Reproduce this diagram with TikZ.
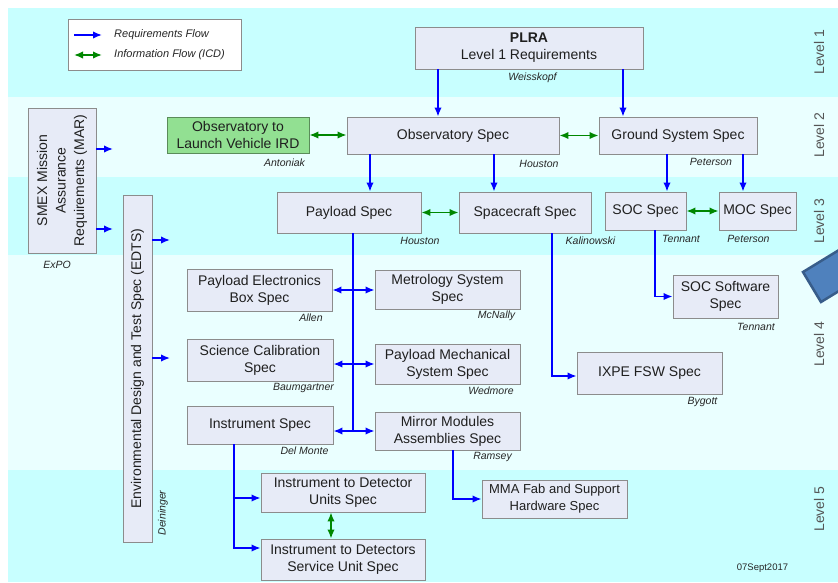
\documentclass[tikz,border=0pt]{standalone}
\usepackage{fontspec}
\setmainfont{Liberation Sans}
\usetikzlibrary{arrows.meta}

\definecolor{bandA}{RGB}{200,255,255}
\definecolor{bandB}{RGB}{234,255,255}
\definecolor{boxfill}{RGB}{231,235,247}
\definecolor{boxline}{RGB}{140,140,140}
\definecolor{irdfill}{RGB}{146,224,146}
\definecolor{irdline}{RGB}{90,140,90}
\definecolor{reqblue}{RGB}{0,0,255}
\definecolor{icdgreen}{RGB}{0,135,0}
\definecolor{levelgray}{RGB}{85,85,85}
\definecolor{tagfill}{RGB}{79,129,189}
\definecolor{tagline}{RGB}{56,93,138}

\tikzset{
  spec/.style={draw=boxline, fill=boxfill, line width=0.9pt, inner sep=0pt,
    align=center, text=black!88, font=\fontsize{14}{17}\selectfont},
  owner/.style={inner sep=0pt, text=black!85, font=\fontsize{10.5}{12}\selectfont\itshape},
  tipshape/.style={},
  req/.style={draw=reqblue, line width=1.6pt, -{Latex[length=9pt,width=7.5pt]}},
  reqboth/.style={draw=reqblue, line width=1.6pt,
    {Latex[length=9pt,width=7.5pt]}-{Latex[length=9pt,width=7.5pt]}},
  reqline/.style={draw=reqblue, line width=1.6pt},
  icd/.style={draw=icdgreen, line width=1.6pt,
    {Latex[length=9pt,width=7.5pt]}-{Latex[length=9pt,width=7.5pt]}},
  levellabel/.style={rotate=90, inner sep=0pt, text=levelgray,
    font=\fontsize{14}{16}\selectfont},
  legendtext/.style={anchor=west, inner sep=0pt, text=black!85,
    font=\fontsize{11}{13}\selectfont\itshape},
}

\begin{document}
\begin{tikzpicture}[x=1pt,y=-1pt]
\useasboundingbox (0,0) rectangle (838,582);

% level bands
\fill[bandA] (8,8) rectangle (838,97);
\fill[bandB] (8,97) rectangle (838,177);
\fill[bandA] (8,177) rectangle (838,255);
\fill[bandB] (8,255) rectangle (838,470);
\fill[bandA] (8,470) rectangle (838,582);

% tilted tab at the right edge
\begin{scope}
  \clip (0,0) rectangle (838,582);
  \filldraw[fill=tagfill, draw=tagline, line width=2.5pt]
    (803,272) -- (875,228) -- (893,258) -- (821,302) -- cycle;
\end{scope}

% level labels
\node[levellabel] (lv1) at (819,52) {Level 1};
\node[levellabel] (lv2) at (819,135) {Level 2};
\node[levellabel] (lv3) at (819,221) {Level 3};
\node[levellabel] (lv4) at (819,344) {Level 4};
\node[levellabel] (lv5) at (819,509) {Level 5};

% legend
\node[draw=boxline, fill=white, line width=0.9pt, inner sep=0pt,
      minimum width=173pt, minimum height=51pt] (legend) at (154.5,44.5) {};
\coordinate (lgReqA) at (74,35);
\coordinate (lgReqB) at (102,35);
\coordinate (lgIcdA) at (74,55);
\coordinate (lgIcdB) at (102,55);
\draw[req] (lgReqA) -- (lgReqB);
\draw[icd] (lgIcdA) -- (lgIcdB);
\node[legendtext] (lgReqTxt) at (114,35) {Requirements Flow};
\node[legendtext] (lgIcdTxt) at (114,55) {Information Flow (ICD)};

% level 1
\node[spec, minimum width=228pt, minimum height=42pt] (plra) at (529,48)
  {\textbf{PLRA}\\Level 1 Requirements};
\node[owner] (oPlra) at (532.5,78) {Weisskopf};

% level 2
\node[spec, fill=irdfill, draw=irdline, minimum width=142pt, minimum height=36pt]
  (ird) at (238,135) {Observatory to\\Launch Vehicle IRD};
\node[owner] (oIrd) at (284.5,163) {Antoniak};
\node[spec, minimum width=212pt, minimum height=37pt] (obs) at (453,135.5)
  {Observatory Spec};
\node[owner] (oObs) at (539,164) {Houston};
\node[spec, minimum width=158pt, minimum height=37pt] (ground) at (678,135.5)
  {Ground System Spec};
\node[owner] (oGround) at (711,162) {Peterson};

% mission-wide documents
\node[spec, rotate=90, minimum width=145pt, minimum height=68pt,
      font=\fontsize{14}{18.5}\selectfont] (smex) at (62,180.5)
  {SMEX Mission\\Assurance\\Requirements (MAR)};
\node[owner] (oSmex) at (57,265) {ExPO};
\node[spec, rotate=90, minimum width=347pt, minimum height=29pt] (edts)
  at (137.5,368.5) {Environmental Design and Test Spec (EDTS)};
\node[owner, rotate=90] (oEdts) at (163,513) {Deininger};

% level 3
\node[spec, minimum width=144pt, minimum height=41pt] (payload) at (349,212.5)
  {Payload Spec};
\node[owner] (oPayload) at (420,241) {Houston};
\node[spec, minimum width=132pt, minimum height=41pt] (sc) at (525,212.5)
  {Spacecraft Spec};
\node[owner] (oSc) at (590.5,241) {Kalinowski};
\node[spec, minimum width=81pt, minimum height=38pt] (soc) at (645.5,211)
  {SOC Spec};
\node[owner] (oSoc) at (681,239) {Tennant};
\node[spec, minimum width=77pt, minimum height=38pt] (moc) at (757.5,211)
  {MOC Spec};
\node[owner] (oMoc) at (748.5,239) {Peterson};

% level 4
\node[spec, minimum width=105pt, minimum height=43pt] (socsw) at (725.5,296.5)
  {SOC Software\\Spec};
\node[owner] (oSocsw) at (756,327) {Tennant};
\node[spec, minimum width=145pt, minimum height=42pt] (ixpe) at (649.5,373)
  {IXPE FSW Spec};
\node[owner] (oIxpe) at (702.5,402) {Bygott};

\node[spec, minimum width=145pt, minimum height=42pt] (peb) at (259.5,290)
  {Payload Electronics\\Box Spec};
\node[owner] (oPeb) at (311,318) {Allen};
\node[spec, minimum width=145pt, minimum height=39pt] (metro) at (447.5,289.5)
  {Metrology System\\Spec};
\node[owner] (oMetro) at (496.5,316) {McNally};
\node[spec, minimum width=146pt, minimum height=42pt] (scical) at (260,360)
  {Science Calibration\\Spec};
\node[owner] (oScical) at (303.5,388) {Baumgartner};
\node[spec, minimum width=145pt, minimum height=40pt] (pms) at (447.5,364)
  {Payload Mechanical\\System Spec};
\node[owner] (oPms) at (491,391) {Wedmore};
\node[spec, minimum width=146pt, minimum height=38pt] (instr) at (260,425)
  {Instrument Spec};
\node[owner] (oInstr) at (304.5,451) {Del Monte};
\node[spec, minimum width=145pt, minimum height=38pt] (mma) at (447.5,431)
  {Mirror Modules\\Assemblies Spec};
\node[owner] (oMma) at (492.5,457) {Ramsey};

% level 5
\node[spec, minimum width=145pt, minimum height=38pt,
      font=\fontsize{13}{17}\selectfont] (mmafab) at (554.5,499)
  {MMA Fab and Support\\Hardware Spec};
\node[spec, minimum width=164pt, minimum height=39pt] (itdu) at (343,492.5)
  {Instrument to Detector\\Units Spec};
\node[spec, minimum width=164pt, minimum height=41pt] (itdsu) at (343,559.5)
  {Instrument to Detectors\\Service Unit Spec};

\node[inner sep=0pt, text=black!85, font=\fontsize{9.5}{11}\selectfont]
  (date) at (762.5,568) {07Sept2017};

% requirements flow from level 1
\draw[req] ([xshift=-15pt]obs.north |- plra.south) -- ([xshift=-15pt]obs.north);
\draw[req] ([xshift=-55pt]ground.north |- plra.south) -- ([xshift=-55pt]ground.north);

% level 2 flows
\draw[icd] (ird.east) -- (ird.east -| obs.west);
\draw[icd] (obs.east) -- (obs.east -| ground.west);
\draw[req] ([xshift=21pt]payload.north |- obs.south) -- ([xshift=21pt]payload.north);
\draw[req] ([xshift=-31pt]sc.north |- obs.south) -- ([xshift=-31pt]sc.north);
\draw[req] ([xshift=21.5pt]soc.north |- ground.south) -- ([xshift=21.5pt]soc.north);
\draw[req] ([xshift=-14.5pt]moc.north |- ground.south) -- ([xshift=-14.5pt]moc.north);

% mission-wide documents feed down
\coordinate (smexA) at (113,149);
\coordinate (smexB) at (113,229);
\draw[req] (smexA -| smex.south) -- (smexA);
\draw[req] (smexB -| smex.south) -- (smexB);
\coordinate (edtsA) at (170,240);
\coordinate (edtsB) at (170,358);
\draw[req] (edtsA -| edts.south) -- (edtsA);
\draw[req] (edtsB -| edts.south) -- (edtsB);

% level 3 flows
\draw[icd] (payload.east) -- (payload.east -| sc.west);
\draw[icd] (soc.east) -- (soc.east -| moc.west);
\draw[req] ([xshift=9.5pt]soc.south) |- (socsw.west);
\draw[req] ([xshift=27pt]sc.south) |- ([yshift=-3pt]ixpe.west);

% payload bus
\coordinate (busTop) at ([xshift=4pt]payload.south);
\draw[reqline] (busTop) -- (busTop |- mma.west);
\draw[reqboth] (peb.east) -- (peb.east -| metro.west);
\draw[reqboth] (pms.west -| scical.east) -- (pms.west);
\draw[reqboth] (mma.west -| instr.east) -- (mma.west);

% level 5 flows
\coordinate (instrDown) at ([xshift=-26pt]instr.south);
\draw[req] (instrDown) |- ([yshift=-5.5pt]itdu.west);
\draw[req] (instrDown) |- ([yshift=11.5pt]itdsu.west);
\draw[icd] ([xshift=-12pt]itdu.south) -- ([xshift=-12pt]itdsu.north);
\draw[req] ([xshift=5.5pt]mma.south) |- (mmafab.west);

\end{tikzpicture}
\end{document}
